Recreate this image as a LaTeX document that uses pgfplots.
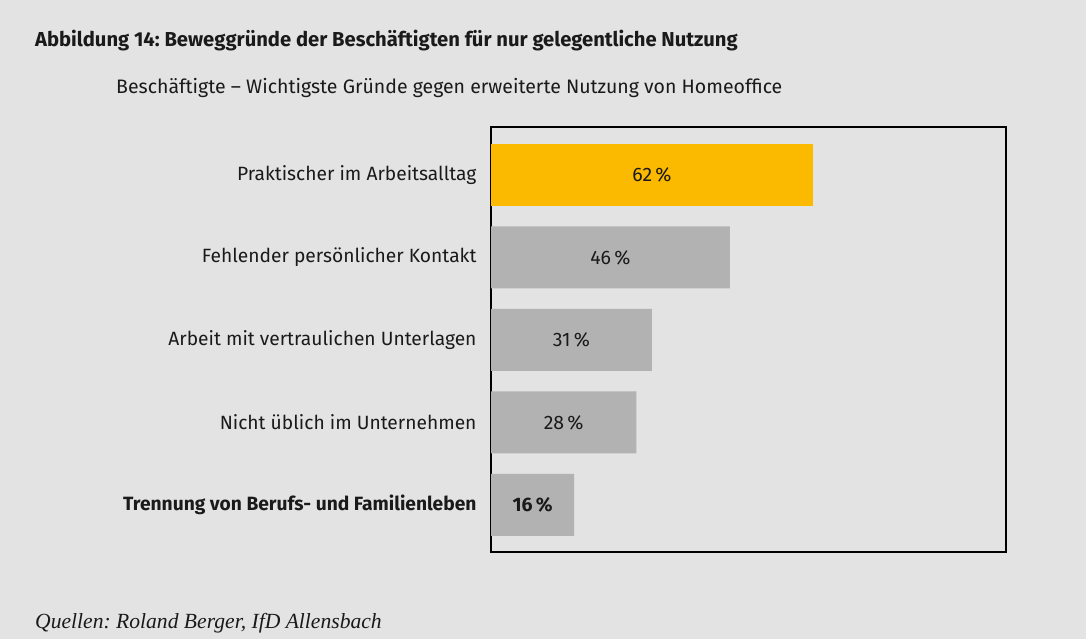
\documentclass[border=0pt]{standalone}
\usepackage{pgfplots}
\pgfplotsset{compat=1.18}
\usepackage{pgfplotstable}
\usepackage{fontspec}
\setmainfont{Fira Sans}
\newfontfamily\srcfont{Liberation Serif}
\frenchspacing
\definecolor{bg}{HTML}{E2E3E2}
\definecolor{bargray}{HTML}{B2B2B2}
\definecolor{baryellow}{HTML}{FBB900}
\definecolor{txt}{HTML}{1A1A1A}

\pgfplotstableread{
idx v
0 62
}\yellowdata
\pgfplotstableread{
idx v
1 46
2 31
3 28
4 16
}\graydata
\pgfplotstableread{
idx v lab
0 62 {62\,\%}
1 46 {46\,\%}
2 31 {31\,\%}
3 28 {28\,\%}
4 16 {\textbf{16\,\%}}
}\labdata

\begin{document}
\begin{tikzpicture}[x=1pt,y=1pt]
\fill[bg] (0,0) rectangle (1086,639);
\node[anchor=base west, font=\fontsize{20.2}{24}\selectfont\bfseries, text=txt, inner sep=0] at (35,592) {Abbildung 14: Beweggründe der Beschäftigten für nur gelegentliche Nutzung};
\node[anchor=base west, font=\fontsize{19.5}{24}\selectfont, text=txt, inner sep=0] at (116,545) {Beschäftigte – Wichtigste Gründe gegen erweiterte Nutzung von Homeoffice};
\node[anchor=base west, font=\fontsize{21.6}{24}\selectfont\srcfont\itshape, text=txt, inner sep=0] at (35,10) {Quellen: Roland Berger, IfD Allensbach};
\begin{axis}[
  at={(491pt,87pt)}, anchor=south west,
  scale only axis, width=515pt, height=425pt,
  xmin=0, xmax=99.2, ymin=-0.58, ymax=4.57,
  y dir=reverse,
  axis line style={line width=1.2pt, black},
  xtick=\empty,
  ytick={0,1,2,3,4},
  yticklabels={Praktischer im Arbeitsalltag, Fehlender persönlicher Kontakt, Arbeit mit vertraulichen Unterlagen, Nicht üblich im Unternehmen, \textbf{Trennung von Berufs- und Familienleben}},
  yticklabel style={font=\fontsize{19.2}{22}\selectfont, text=txt, xshift=-11pt},
  major tick length=0pt,
  xbar, bar width=62pt, bar shift=0pt,
]
\addplot[fill=baryellow, draw=none] table[x=v, y=idx] {\yellowdata};
\addplot[fill=bargray, draw=none] table[x=v, y=idx] {\graydata};
\addplot[xbar=0pt, draw=none, fill=none, bar width=0pt, forget plot,
  nodes near coords, point meta=explicit symbolic,
  every node near coord/.style={anchor=center, font=\fontsize{19.5}{22}\selectfont, text=txt, inner sep=0pt}]
  table[x expr=\thisrow{v}/2, y=idx, meta=lab] {\labdata};
\end{axis}
\end{tikzpicture}
\end{document}
